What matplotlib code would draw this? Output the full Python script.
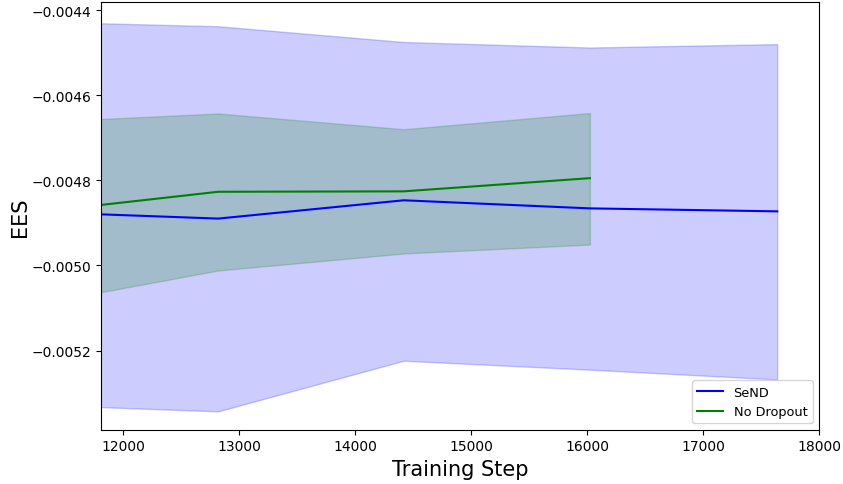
import numpy as np
import matplotlib
matplotlib.use("Agg")
import matplotlib.pyplot as plt

# Training steps at which EES was evaluated
steps_send = [11808, 12820, 14420, 16025, 17640]
steps_nodrop = [11808, 12820, 14420, 16025]

# SeND: mean and band bounds
send_mean = [-0.004880, -0.004890, -0.004847, -0.004866, -0.004873]
send_upper = [-0.004431, -0.004438, -0.004475, -0.004488, -0.004480]
send_lower = [-0.005333, -0.005343, -0.005224, -0.005245, -0.005268]

# No Dropout: mean and band bounds
nodrop_mean = [-0.004858, -0.004827, -0.004826, -0.004795]
nodrop_upper = [-0.004656, -0.004643, -0.004680, -0.004642]
nodrop_lower = [-0.005063, -0.005012, -0.004972, -0.004951]

fig, ax = plt.subplots(figsize=(8.43, 4.85), dpi=100)
fig.subplots_adjust(left=0.1195, right=0.9715, top=0.993, bottom=0.112)

ax.plot(steps_send, send_mean, color="blue", label="SeND")
ax.fill_between(steps_send, send_lower, send_upper, color="blue", alpha=0.2)
ax.plot(steps_nodrop, nodrop_mean, color="green", label="No Dropout")
ax.fill_between(steps_nodrop, nodrop_lower, nodrop_upper, color="green", alpha=0.2)

ax.set_xlim(steps_send[0], 18000)
ax.set_ylim(-0.005386, -0.004382)
ax.set_xlabel("Training Step", fontsize=15)
ax.set_ylabel("EES", fontsize=15, labelpad=1)
ax.legend(loc="lower right", fontsize=9.3)

fig.savefig("out.png", dpi=100)
